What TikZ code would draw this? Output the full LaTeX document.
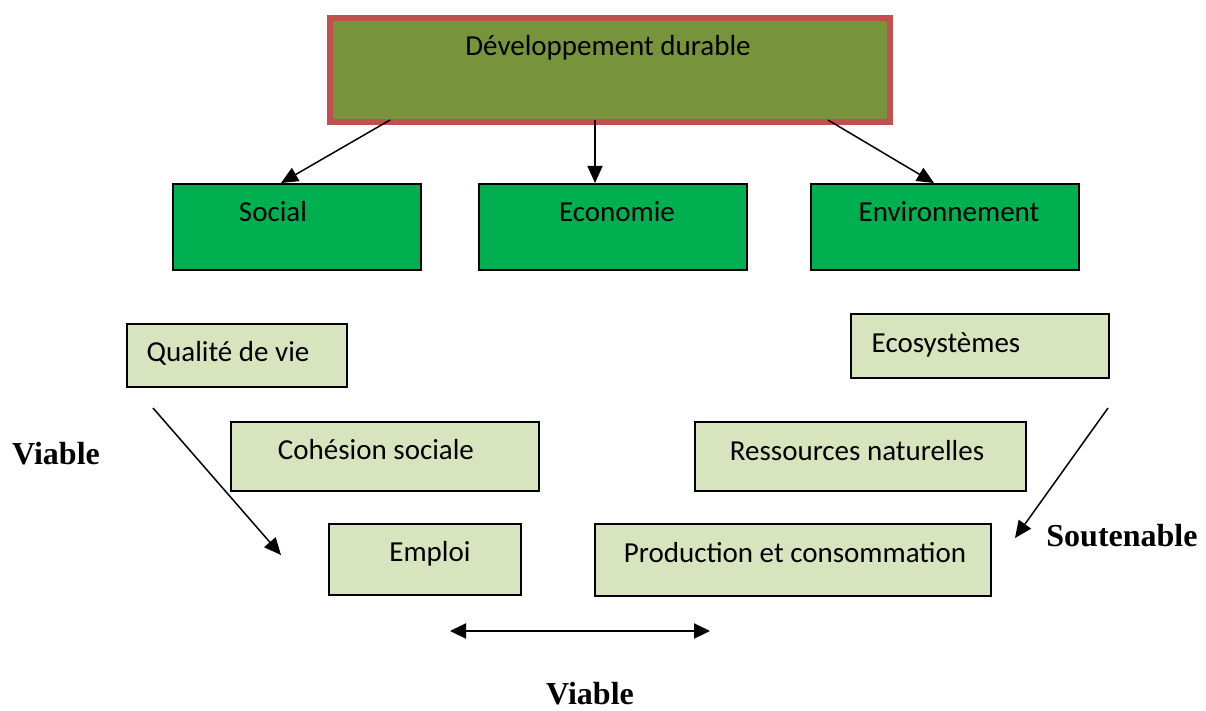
\documentclass[tikz,border=0pt]{standalone}
\usepackage{fontspec}
\setmainfont{Carlito}
\newfontfamily\timesbf{Liberation Serif}[BoldFont={Liberation Serif Bold}]
\usepackage{xcolor}
\usetikzlibrary{arrows.meta}

\definecolor{olivegreen}{HTML}{77933C}
\definecolor{darkred}{HTML}{C0504D}
\definecolor{vividgreen}{HTML}{00B050}
\definecolor{palegreen}{HTML}{D7E4BD}

\begin{document}
\begin{tikzpicture}[x=1pt,y=-1pt,
  topbox/.style={rectangle, draw=darkred, line width=6pt, fill=olivegreen, anchor=north west},
  mainbox/.style={rectangle, draw, line width=1.8pt, fill=vividgreen, anchor=north west},
  subbox/.style={rectangle, draw, line width=1.8pt, fill=palegreen, anchor=north west},
  txt/.style={anchor=base, inner sep=0pt, font=\fontsize{29}{34}\selectfont},
  lbl/.style={anchor=base, inner sep=0pt, font=\fontsize{32}{38}\selectfont\timesbf\bfseries},
  arr/.style={line width=1.5pt, -{Triangle[length=17pt,width=15pt]}}]

\useasboundingbox (0,0) rectangle (1206,711);

% boxes
\node[topbox, minimum width=560, minimum height=104] (dd) at (327,15) {};
\node[mainbox, minimum width=248, minimum height=86] (social) at (172,183) {};
\node[mainbox, minimum width=268, minimum height=86] (eco) at (478,183) {};
\node[mainbox, minimum width=268, minimum height=86] (env) at (810,183) {};
\node[subbox, minimum width=220, minimum height=63] (qual) at (126,323) {};
\node[subbox, minimum width=308, minimum height=69] (cohes) at (230,421) {};
\node[subbox, minimum width=192, minimum height=71] (emploi) at (328,523) {};
\node[subbox, minimum width=258, minimum height=64] (ecosys) at (850,313) {};
\node[subbox, minimum width=331, minimum height=69] (ress) at (694,421) {};
\node[subbox, minimum width=396, minimum height=72] (prod) at (594,523) {};

% texts
\node[txt] (tdd) at (608,56) {Développement durable};
\node[txt] (tsocial) at (273,222) {Social};
\node[txt] (teco) at (617,222) {Economie};
\node[txt] (tenv) at (949,222) {Environnement};
\node[txt] (tqual) at (228,361) {Qualité de vie};
\node[txt] (tcohes) at (376,459) {Cohésion sociale};
\node[txt] (templ) at (430,561) {Emploi};
\node[txt] (tecosys) at (946,352) {Ecosystèmes};
\node[txt] (tress) at (857,460) {Ressources naturelles};
\node[txt] (tprod) at (795,562) {Production et consommation};

\node[lbl] (viableL) at (56,464) {Viable};
\node[lbl] (soutenable) at (1122,546) {Soutenable};
\node[lbl] (viableB) at (590,704) {Viable};

% arrows
\coordinate (a1) at (390,120);
\coordinate (a2) at (595,120);
\coordinate (a3) at (828,120);
\coordinate (b1) at (281,183);
\coordinate (b2) at (595,183);
\coordinate (b3) at (934,183);
\coordinate (c1) at (153,408);
\coordinate (c2) at (281,555);
\coordinate (d1) at (1108,408);
\coordinate (d2) at (1015,538);
\coordinate (e1) at (450,631);
\coordinate (e2) at (710,631);

\draw[arr] (a1) -- (b1);
\draw[arr] (a2) -- (b2);
\draw[arr] (a3) -- (b3);
\draw[arr] (c1) -- (c2);
\draw[arr] (d1) -- (d2);
\draw[line width=2.2pt, {Triangle[length=16pt,width=15pt]}-{Triangle[length=16pt,width=15pt]}] (e1) -- (e2);
\end{tikzpicture}
\end{document}
